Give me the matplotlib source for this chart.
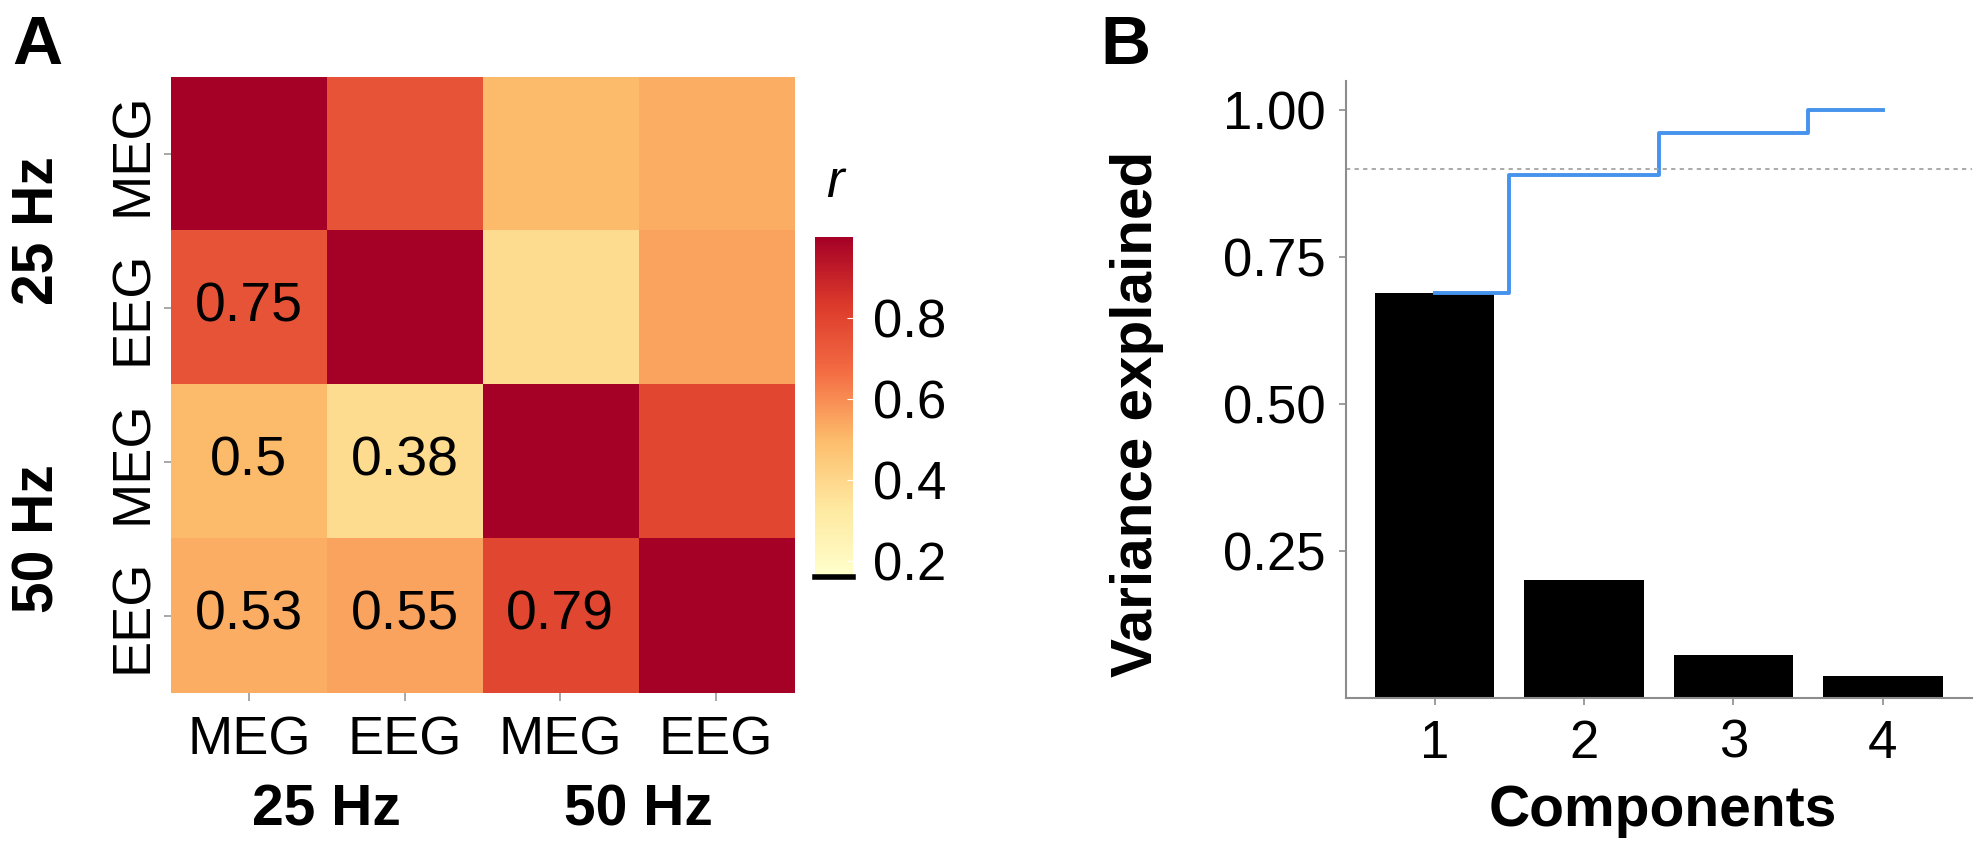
import numpy as np
import matplotlib
matplotlib.use("Agg")
import matplotlib.pyplot as plt
from matplotlib.colors import LinearSegmentedColormap

plt.rcParams["font.family"] = ["Liberation Sans", "DejaVu Sans"]

# ---------------- data ----------------
labels = ["MEG", "EEG", "MEG", "EEG"]
groups = ["25 Hz", "50 Hz"]
# correlation matrix (symmetric), rows/cols: 25Hz MEG, 25Hz EEG, 50Hz MEG, 50Hz EEG
corr = np.array([
    [1.00, 0.75, 0.50, 0.53],
    [0.75, 1.00, 0.38, 0.55],
    [0.50, 0.38, 1.00, 0.79],
    [0.53, 0.55, 0.79, 1.00],
])
components = [1, 2, 3, 4]
var_explained = [0.689, 0.200, 0.073, 0.038]
threshold = 0.9

cmap = LinearSegmentedColormap.from_list(
    "warm", ["#FFFFCC", "#FEE9A0", "#FDBD6C", "#F46D43", "#DC3A2B", "#A50026"])
vmin, vmax = 0.16, 1.0

fig = plt.figure(figsize=(19.83, 8.42), dpi=100)

# ---------------- A: heatmap ----------------
ax = fig.add_axes([0.0862, 0.177, 0.3142, 0.7316])
im = ax.imshow(corr, cmap=cmap, vmin=vmin, vmax=vmax, aspect="auto")
for i in range(4):
    for j in range(i):
        ax.text(j, i, f"{corr[i, j]:g}", ha="center", va="center", fontsize=40)
ax.set_xticks(range(4))
ax.set_xticklabels(labels, fontsize=39)
ax.set_yticks(range(4))
ax.set_yticklabels(labels, fontsize=39, rotation=90, va="center")
for s in ax.spines.values():
    s.set_visible(False)
ax.tick_params(axis="x", length=6, width=1.2, color="#9a9a9a", pad=10)
ax.tick_params(axis="y", length=5, width=1.2, color="#9a9a9a", pad=4)
ax.text(0.25, -0.19, groups[0], transform=ax.transAxes, ha="center", va="center",
        fontsize=41, fontweight="bold")
ax.text(0.75, -0.19, groups[1], transform=ax.transAxes, ha="center", va="center",
        fontsize=41, fontweight="bold")
ax.text(-0.213, 0.75, groups[0], transform=ax.transAxes, ha="center", va="center",
        fontsize=41, fontweight="bold", rotation=90)
ax.text(-0.213, 0.25, groups[1], transform=ax.transAxes, ha="center", va="center",
        fontsize=41, fontweight="bold", rotation=90)

cax = fig.add_axes([0.411, 0.315, 0.0192, 0.404])
cb = fig.colorbar(im, cax=cax, ticks=[0.2, 0.4, 0.6, 0.8])
cb.outline.set_visible(False)
cax.tick_params(labelsize=38, length=4, color="white", direction="in", pad=14)
cax.axhline(vmin, color="black", lw=4, clip_on=False)
fig.text(0.421, 0.783, "r", fontsize=38, style="italic", ha="center", va="center")

# ---------------- B: variance explained ----------------
ax2 = fig.add_axes([0.679, 0.171, 0.3157, 0.733])
ax2.bar(components, var_explained, width=0.8, color="black")
ax2.plot(components, np.cumsum(var_explained), drawstyle="steps-mid",
         color="#4593EC", lw=2.8)
ax2.axhline(threshold, color="#aaaaaa", lw=1.4, ls=(0, (2.2, 2.2)))
ax2.set_xlim(0.41, 4.6)
ax2.set_ylim(0, 1.05)
ax2.set_xticks(components)
ax2.set_yticks([0.25, 0.5, 0.75, 1.0])
ax2.set_yticklabels(["0.25", "0.50", "0.75", "1.00"])
ax2.tick_params(labelsize=38, length=5, width=1.2, color="#8c8c8c", pad=10)
for s in ["top", "right"]:
    ax2.spines[s].set_visible(False)
for s in ["left", "bottom"]:
    ax2.spines[s].set_color("#8c8c8c")
    ax2.spines[s].set_linewidth(1.5)
ax2.text(-0.334, 0.46, "Variance explained", transform=ax2.transAxes, rotation=90,
         ha="center", va="center", fontsize=42, fontweight="bold")
ax2.text(0.505, -0.183, "Components", transform=ax2.transAxes, ha="center",
         va="center", fontsize=41, fontweight="bold")

fig.text(0.006, 0.945, "A", fontsize=50, fontweight="bold", ha="left", va="center")
fig.text(0.555, 0.945, "B", fontsize=50, fontweight="bold", ha="left", va="center")

fig.savefig("out.png", dpi=100)
